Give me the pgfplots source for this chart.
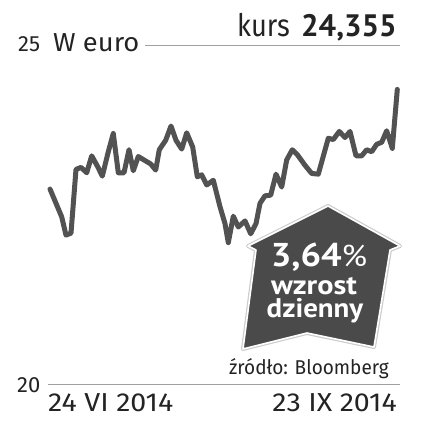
\documentclass[border=0pt]{standalone}
\usepackage{fontspec}
\setmainfont{Fira Sans}
\newfontfamily\bfam{PT Sans}
\usepackage{graphicx}
\usepackage{pgfplots}
\pgfplotsset{compat=1.18}
\definecolor{linegray}{RGB}{82,82,82}
\definecolor{shapegray}{RGB}{74,74,74}
\definecolor{gridgray}{RGB}{160,160,160}
\definecolor{txt}{RGB}{35,35,35}
\newcommand{\cnd}[2]{\scalebox{#1}[1]{#2}}
\begin{document}
\begin{tikzpicture}
\path[use as bounding box] (0,0) rectangle (426pt,426pt);
\begin{axis}[
  at={(48pt,41pt)}, anchor=south west,
  scale only axis, width=352pt, height=339pt,
  xmin=48, xmax=400, ymin=20, ymax=25,
  axis lines=none, clip=false]
\addplot[linegray, line width=5pt, line join=round, line cap=round] coordinates {
(50,22.89)(61.7,22.48)(66,22.21)(71,22.24)(76,23.18)(81,23.21)(86.7,23.13)(91.7,23.38)
(97.7,23.22)(102.3,23.08)(108.3,23.44)(113.3,23.71)(118.3,23.13)(124,23.13)(129,23.47)
(133.3,23.16)(138.3,23.37)(145,23.31)(150.7,23.26)(155.7,23.17)(159.3,23.47)(165.7,23.61)
(171,23.82)(176,23.61)(181.7,23.48)(186.7,23.72)(192.7,23.51)(197.3,23.07)(201.7,23.10)
(206.7,22.95)(213.3,23.02)(220,22.63)(225,22.38)(228.3,22.10)(233.3,22.49)(238.3,22.33)
(245,22.42)(250.7,22.23)(256,22.38)(260,22.68)(265,22.79)(270.7,22.80)(276,23.11)
(281.7,22.92)(286.7,23.32)(292.3,23.47)(297.7,23.39)(305,23.24)(311.7,23.12)(318.3,23.11)
(328.3,23.64)(333.3,23.62)(339.3,23.74)(345,23.65)(350,23.74)(356,23.38)(361.7,23.38)
(366.7,23.47)(371.7,23.44)(376.7,23.55)(381.7,23.58)(386.7,23.75)(392.3,23.49)(397.3,24.36)
};
\end{axis}
\begin{scope}[x=1pt,y=-1pt,shift={(0pt,426pt)}]
% rule lines
\draw[gridgray, line width=1pt] (145,46) -- (400,46);
\draw[gridgray, line width=1pt] (48,385) -- (400,385);
% arrow shape
\draw[gray!40, line width=4pt, line join=round]
  (328,206) -- (400,246) -- (390,250) -- (374,347) -- (307,333) -- (243,349) -- (256,250) -- (248,246) -- cycle;
\filldraw[fill=shapegray, draw=white, line width=1.6pt, line join=round]
  (328,206) -- (400,246) -- (390,250) -- (374,347) -- (307,333) -- (243,349) -- (256,250) -- (248,246) -- cycle;
\node[anchor=base, inner sep=0, text=white] at (319,266.7) {\cnd{1.1}{\bfam\fontsize{33}{33}\selectfont\bfseries 3,64{\fontsize{30}{30}\selectfont\mdseries\%}}};
\node[anchor=base, inner sep=0, text=white] at (314,294.5) {\cnd{1.12}{\bfam\fontsize{27}{27}\selectfont\bfseries wzrost}};
\node[anchor=base, inner sep=0, text=white] at (315,318) {\cnd{1.07}{\bfam\fontsize{27}{27}\selectfont\bfseries dzienny}};
% texts
\node[anchor=base west, inner sep=0, text=txt] at (18,52) {\fontsize{22}{22}\selectfont 25};
\node[anchor=base west, inner sep=0, text=txt] at (53,52) {\cnd{1.05}{\fontsize{26}{26}\selectfont W euro}};
\node[anchor=base west, inner sep=0, text=txt] at (237,37) {\cnd{0.88}{\fontsize{31}{31}\selectfont kurs}};
\node[anchor=base east, inner sep=0, text=txt] at (397,37) {\bfam\fontsize{31}{31}\selectfont\bfseries 24,355};
\node[anchor=base west, inner sep=0, text=txt] at (17,393) {\fontsize{22}{22}\selectfont 20};
\node[anchor=base west, inner sep=0, text=txt] at (48,412) {\cnd{1.1}{\fontsize{26}{26}\selectfont 24 VI 2014}};
\node[anchor=base east, inner sep=0, text=txt] at (397,412) {\cnd{1.1}{\fontsize{26}{26}\selectfont 23 IX 2014}};
\node[anchor=base east, inner sep=0, text=txt] at (389,375) {\cnd{0.95}{\fontsize{20}{20}\selectfont źródło: Bloomberg}};
\end{scope}
\end{tikzpicture}
\end{document}
